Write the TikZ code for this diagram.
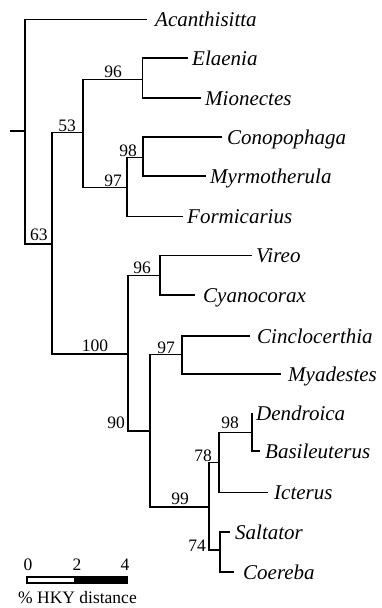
\documentclass[tikz,border=0pt]{standalone}
\usepackage{fontspec}
\setmainfont{Liberation Serif}
\begin{document}
\begin{tikzpicture}[x=1pt,y=-1pt,
  br/.style={line width=1.5pt},
  taxon/.style={anchor=base west,inner sep=0pt,font=\fontsize{21}{21}\selectfont\itshape},
  supp/.style={anchor=base,inner sep=0pt,font=\fontsize{17.5}{17.5}\selectfont},
  scl/.style={anchor=base,inner sep=0pt,font=\fontsize{17.5}{17.5}\selectfont}]
\useasboundingbox (0,0) rectangle (381,608);
% internal nodes
\coordinate (rs) at (10,131);
\coordinate (root) at (25,131);
\coordinate (n63) at (52,244);
\coordinate (n53) at (83,132.7);
\coordinate (n96a) at (142.5,79.3);
\coordinate (n97a) at (127,187.7);
\coordinate (n98a) at (143,157.7);
\coordinate (n100) at (128,354);
\coordinate (n96b) at (160,275.7);
\coordinate (n90) at (150,431);
\coordinate (n97b) at (182,354.3);
\coordinate (n99) at (209,507);
\coordinate (n78) at (219,462.5);
\coordinate (n98b) at (252,432.3);
\coordinate (n74) at (220,550);
% leaves (branch ends)
\coordinate (lAca) at (147,19.3);
\coordinate (lEla) at (188,58);
\coordinate (lMio) at (200.5,98);
\coordinate (lCon) at (222,137);
\coordinate (lMyr) at (206,176);
\coordinate (lFor) at (183,216.7);
\coordinate (lVir) at (252,255.5);
\coordinate (lCya) at (195,295);
\coordinate (lCin) at (250,336);
\coordinate (lMya) at (281,374);
\coordinate (lDen) at (252,413);
\coordinate (lBas) at (260,451);
\coordinate (lIct) at (268,492.3);
\coordinate (lSal) at (230,532);
\coordinate (lCoe) at (234,572);
% branches
\draw[br] (rs) -- (root);
\draw[br] (root) |- (lAca);
\draw[br] (root) |- (n63);
\draw[br] (n63) |- (n53);
\draw[br] (n63) |- (n100);
\draw[br] (n53) |- (n96a);
\draw[br] (n53) |- (n97a);
\draw[br] (n96a) |- (lEla);
\draw[br] (n96a) |- (lMio);
\draw[br] (n97a) |- (n98a);
\draw[br] (n97a) |- (lFor);
\draw[br] (n98a) |- (lCon);
\draw[br] (n98a) |- (lMyr);
\draw[br] (n100) |- (n96b);
\draw[br] (n100) |- (n90);
\draw[br] (n96b) |- (lVir);
\draw[br] (n96b) |- (lCya);
\draw[br] (n90) |- (n97b);
\draw[br] (n90) |- (n99);
\draw[br] (n97b) |- (lCin);
\draw[br] (n97b) |- (lMya);
\draw[br] (n99) |- (n78);
\draw[br] (n99) |- (n74);
\draw[br] (n78) |- (n98b);
\draw[br] (n78) |- (lIct);
\draw[br] (n98b) |- (lDen);
\draw[br] (n98b) |- (lBas);
\draw[br] (n74) |- (lSal);
\draw[br] (n74) |- (lCoe);
% taxon names
\node[taxon] (tAca) at (155,26) {Acanthisitta};
\node[taxon] (tEla) at (192,65) {Elaenia};
\node[taxon] (tMio) at (205,105) {Mionectes};
\node[taxon] (tCon) at (227,144) {Conopophaga};
\node[taxon] (tMyr) at (210,183) {Myrmotherula};
\node[taxon] (tFor) at (187,223.7) {Formicarius};
\node[taxon] (tVir) at (256,262.5) {Vireo};
\node[taxon] (tCya) at (203,302) {Cyanocorax};
\node[taxon] (tCin) at (257,343) {Cinclocerthia};
\node[taxon] (tMya) at (288,381) {Myadestes};
\node[taxon] (tDen) at (256,420) {Dendroica};
\node[taxon] (tBas) at (265,458) {Basileuterus};
\node[taxon] (tIct) at (274,499.3) {Icterus};
\node[taxon] (tSal) at (235,539) {Saltator};
\node[taxon] (tCoe) at (243,579) {Coereba};
% support values
\node[supp] (s96a) at (113,77.5) {96};
\node[supp] (s53) at (67,131) {53};
\node[supp] (s98a) at (128,156) {98};
\node[supp] (s97a) at (113,186) {97};
\node[supp] (s63) at (39,240) {63};
\node[supp] (s96b) at (142,273.5) {96};
\node[supp] (s100) at (95,351) {100};
\node[supp] (s97b) at (166,353) {97};
\node[supp] (s90) at (116,428.5) {90};
\node[supp] (s99) at (180,504) {99};
\node[supp] (s98b) at (230,428.5) {98};
\node[supp] (s78) at (203,461.5) {78};
\node[supp] (s74) at (197,551) {74};
% scale bar
\draw[line width=1.2pt,fill=white] (27,577) rectangle (75,583);
\draw[line width=1.2pt,fill=black] (75,577) rectangle (127,583);
\node[scl] (c0) at (28,570.5) {0};
\node[scl] (c2) at (77,570.5) {2};
\node[scl] (c4) at (125,570.5) {4};
\node[scl,anchor=base west] (cap) at (18,603) {\% HKY distance};
\end{tikzpicture}
\end{document}
